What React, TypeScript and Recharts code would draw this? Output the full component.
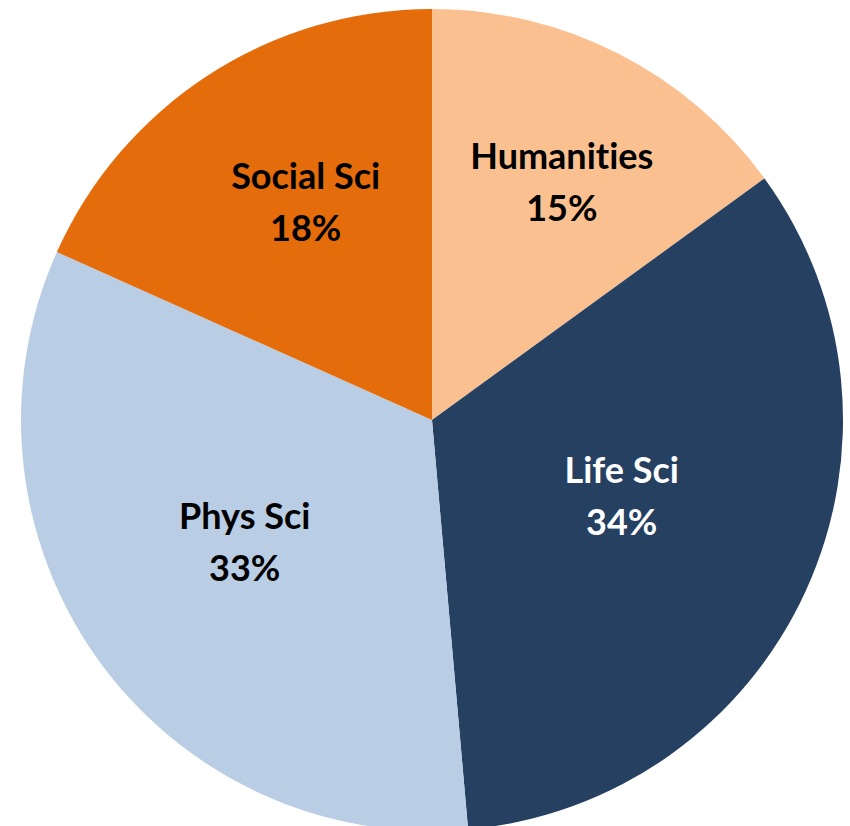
import React from "react";
import { PieChart, Pie, Cell } from "recharts";

const categories = ["Humanities", "Life Sci", "Phys Sci", "Social Sci"];
const shares = [15.0, 33.6, 33.1, 18.3];
const sliceColors = ["#FAC090", "#254061", "#B9CDE5", "#E46C0A"];
const labelColors = ["#000000", "#FFFFFF", "#000000", "#000000"];
const labelRadiusFactors = [0.662, 0.496, 0.543, 0.616];
const labelAngleShifts = [1.5, -3, 2.5, 3];

const data = categories.map((name, i) => ({ name, value: shares[i] }));

const RAD = Math.PI / 180;

const renderLabel = (props: any) => {
  const { cx, cy, midAngle, outerRadius, percent, index, name } = props;
  const r = outerRadius * labelRadiusFactors[index];
  const a = midAngle - labelAngleShifts[index];
  const x = cx + r * Math.cos(-a * RAD);
  const y = cy + r * Math.sin(-a * RAD);
  return (
    <text
      x={x}
      y={y}
      textAnchor="middle"
      fill={labelColors[index]}
      fontFamily="Lato, 'Noto Sans', sans-serif"
      fontWeight={700}
      fontSize={36}
      style={{ fontVariantLigatures: "none", fontFeatureSettings: '"liga" 0, "clig" 0' }}
    >
      <tspan x={x} y={y - 26} dominantBaseline="central">{name}</tspan>
      <tspan x={x} y={y + 26} dominantBaseline="central">{`${Math.round(percent * 100)}%`}</tspan>
    </text>
  );
};

export default function App() {
  return (
    <div style={{ position: "absolute", left: 0, top: 0, width: 850, height: 826, background: "#fff" }}>
      <PieChart width={850} height={826} margin={{ top: 0, right: 0, bottom: 0, left: 0 }}>
        <Pie
          data={data}
          dataKey="value"
          nameKey="name"
          cx={432}
          cy={420}
          outerRadius={411}
          startAngle={90}
          endAngle={-270}
          stroke="none"
          label={renderLabel}
          labelLine={false}
          isAnimationActive={false}
        >
          {data.map((d, i) => (
            <Cell key={d.name} fill={sliceColors[i]} />
          ))}
        </Pie>
      </PieChart>
    </div>
  );
}
